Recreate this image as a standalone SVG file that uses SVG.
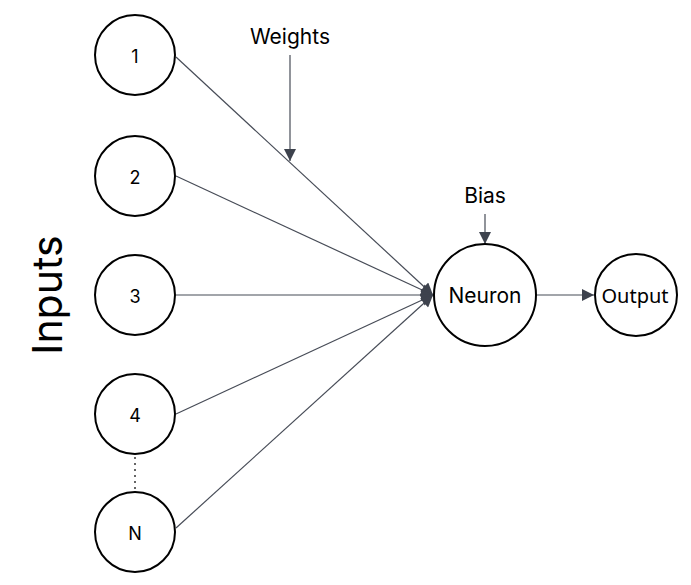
<svg xmlns="http://www.w3.org/2000/svg" width="691" height="585" viewBox="0 0 691 585">
<style>
.node circle{fill:#fff;stroke:#000;stroke-width:2}
.lbl{font-family:Inter,"Liberation Sans",sans-serif;font-size:21px;fill:#000;text-anchor:middle;dominant-baseline:central}
.num{font-size:18px}
.edge{stroke:#474c57;stroke-width:1.2;fill:none}
</style>
<defs>
<marker id="ah" viewBox="0 0 10 10" refX="10" refY="5" markerWidth="14" markerHeight="12" markerUnits="userSpaceOnUse" orient="auto">
<path d="M0,0 L10,5 L0,10 Z" fill="#3d424d"/>
</marker>
</defs>
<rect width="691" height="585" fill="#fff"/>
<g id="connectors">
<line class="edge" x1="176" y1="57" x2="433" y2="295" marker-end="url(#ah)"/>
<line class="edge" x1="176" y1="176" x2="433" y2="295" marker-end="url(#ah)"/>
<line class="edge" x1="176" y1="295" x2="433" y2="295" marker-end="url(#ah)"/>
<line class="edge" x1="176" y1="414" x2="433" y2="295" marker-end="url(#ah)"/>
<line class="edge" x1="176" y1="528" x2="433" y2="295" marker-end="url(#ah)"/>
<line class="edge" x1="290" y1="55" x2="290" y2="161" marker-end="url(#ah)"/>
<line class="edge" x1="485" y1="214" x2="485" y2="244" marker-end="url(#ah)"/>
<line class="edge" x1="536" y1="295" x2="594" y2="295" marker-end="url(#ah)"/>
<line x1="135" y1="457" x2="135" y2="490" stroke="#000" stroke-width="1.2" stroke-dasharray="2,4"/>
</g>
<g id="in1" class="node"><circle cx="135" cy="55" r="40"/><text class="lbl num" x="135" y="56">1</text></g>
<g id="in2" class="node"><circle cx="135" cy="176" r="40"/><text class="lbl num" x="135" y="177">2</text></g>
<g id="in3" class="node"><circle cx="135" cy="295" r="40"/><text class="lbl num" x="135" y="296">3</text></g>
<g id="in4" class="node"><circle cx="135" cy="414" r="40"/><text class="lbl num" x="135" y="415">4</text></g>
<g id="inN" class="node"><circle cx="135" cy="532" r="40"/><text class="lbl num" x="135" y="533">N</text></g>
<g id="neuron" class="node"><circle cx="485" cy="295" r="51"/><text class="lbl" x="485" y="295">Neuron</text></g>
<g id="output" class="node"><circle cx="636" cy="295" r="41"/><text class="lbl" x="635" y="295" style="font-family:'Noto Sans','Open Sans',sans-serif;font-size:20px">Output</text></g>
<g id="weights"><text class="lbl" x="290" y="36">Weights</text></g>
<g id="bias"><text class="lbl" x="485" y="195">Bias</text></g>
<g id="inputs"><text class="lbl" x="47" y="295" style="font-size:41px" transform="rotate(-90 47 295)">Inputs</text></g>
</svg>
